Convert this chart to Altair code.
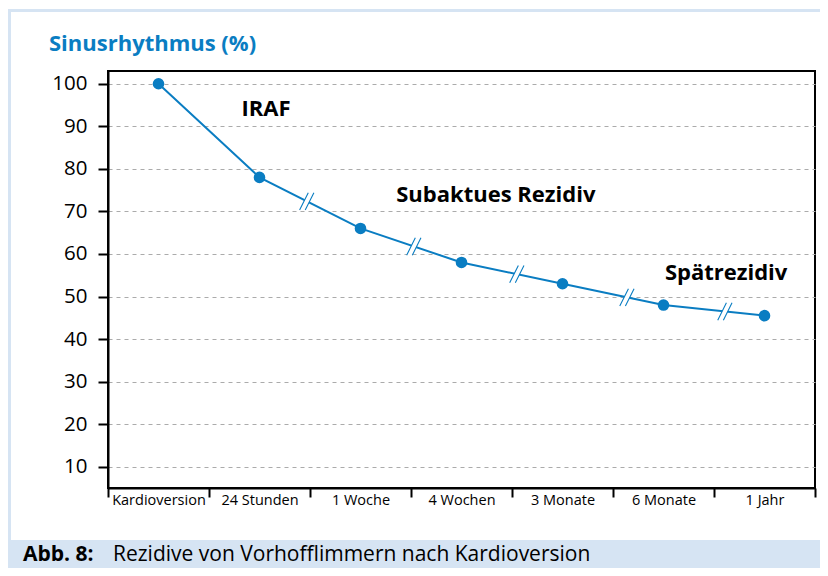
import json
import altair as alt
import pandas as pd

# ---------------- data ----------------
categories = ["Kardioversion", "24 Stunden", "1 Woche", "4 Wochen",
              "3 Monate", "6 Monate", "1 Jahr"]
sinus = [100, 78, 66, 58, 53, 48, 45.5]
y_ticks = [10, 20, 30, 40, 50, 60, 70, 80, 90, 100]

# axis breaks ("//") drawn on the segment after point index, at fraction of the segment
break_after = [1, 2, 3, 4, 5]
break_frac = [0.47, 0.53, 0.55, 0.64, 0.61]

phase_labels = ["IRAF", "Subaktues Rezidiv", "Spätrezidiv"]
phase_x = [1.565, 3.84, 6.12]
phase_y = [94.0, 73.9, 55.5]

title_text = "Sinusrhythmus (%)"
caption_bold = "Abb. 8:"
caption_text = "Rezidive von Vorhofflimmern nach Kardioversion"

# ---------------- styles ----------------
FONT = "Open Sans"
BLUE = "#0a7dc2"
FRAME = "#d6e4f3"
W, H = 707, 417

df = pd.DataFrame({
    "cat": categories,
    "pos": [i + 0.5 for i in range(len(categories))],
    "val": sinus,
})

brk = pd.DataFrame({
    "pos": [i + 0.5 + f for i, f in zip(break_after, break_frac)],
    "val": [sinus[i] + f * (sinus[i + 1] - sinus[i]) for i, f in zip(break_after, break_frac)],
})

phases = pd.DataFrame({"label": phase_labels, "pos": phase_x, "val": phase_y})

xs = alt.Scale(domain=[0, len(categories)], nice=False, zero=False)
ys = alt.Scale(domain=[5, 103], nice=False, zero=False)

y_axis = alt.Axis(values=y_ticks, title=None, grid=True, gridDash=[4, 4],
                  gridColor="#ababab", gridWidth=1, domainColor="black",
                  domainWidth=2, tickColor="black", tickWidth=2, tickSize=10,
                  labelFontSize=20.5, labelColor="black", labelPadding=11,
                  labelFont=FONT)

x_axis_ticks = alt.Axis(values=list(range(len(categories) + 1)), labels=False,
                        title=None, grid=False, orient="bottom",
                        domainColor="black", domainWidth=2, tickColor="black",
                        tickWidth=2, tickSize=9)

label_expr = json.dumps(categories) + "[floor(datum.value)]"
x_axis_labels = alt.Axis(values=[i + 0.5 for i in range(len(categories))],
                         labelExpr=label_expr, ticks=False, domain=False,
                         grid=False, orient="bottom", labelFontSize=14.5,
                         labelPadding=5, labelColor="black", title=None,
                         labelFont=FONT)


def yenc():
    return alt.Y("val:Q", scale=ys, axis=y_axis)


line = alt.Chart(df).mark_line(color=BLUE, strokeWidth=2).encode(
    x=alt.X("pos:Q", scale=xs, axis=x_axis_ticks),
    y=yenc(),
)

points = alt.Chart(df).mark_point(filled=True, color=BLUE, size=135, opacity=1).encode(
    x=alt.X("pos:Q", scale=xs, axis=x_axis_labels),
    y=yenc(),
)

gap_shape = "M -0.85 1 L 0.15 -1 L 0.8 -1 L -0.2 1 Z"
slash_shape = "M -0.85 1 L 0.15 -1 M -0.2 1 L 0.8 -1"

break_gap = alt.Chart(brk).mark_point(shape=gap_shape, filled=True, fill="white",
                                      strokeWidth=0, size=300, opacity=1).encode(
    x=alt.X("pos:Q", scale=xs, axis=None),
    y=yenc(),
)
break_slash = alt.Chart(brk).mark_point(shape=slash_shape, filled=False,
                                        stroke=BLUE, strokeWidth=1.1, size=300,
                                        opacity=1).encode(
    x=alt.X("pos:Q", scale=xs, axis=None),
    y=yenc(),
)

phase_text = alt.Chart(phases).mark_text(font=FONT, fontSize=22, fontWeight="bold",
                                         color="black", align="center",
                                         baseline="middle").encode(
    x=alt.X("pos:Q", scale=xs, axis=None),
    y=yenc(),
    text="label:N",
)

one = alt.Data(values=[{"a": 1}])

frame_top = alt.Chart(one).mark_rect(color=FRAME).encode(
    x=alt.value(-100), x2=alt.value(712), y=alt.value(-62), y2=alt.value(-59))
frame_left = alt.Chart(one).mark_rect(color=FRAME).encode(
    x=alt.value(-100), x2=alt.value(-97), y=alt.value(-62), y2=alt.value(469))
caption_band = alt.Chart(one).mark_rect(color=FRAME).encode(
    x=alt.value(-100), x2=alt.value(712), y=alt.value(469), y2=alt.value(497))

title_mark = alt.Chart(alt.Data(values=[{"t": title_text}])).mark_text(
    font=FONT, fontSize=22, fontWeight="bold", color=BLUE, align="left",
    baseline="middle").encode(x=alt.value(-59), y=alt.value(-27), text="t:N")

cap1 = alt.Chart(alt.Data(values=[{"t": caption_bold}])).mark_text(
    font=FONT, fontSize=21, fontWeight="bold", color="black", align="left",
    baseline="middle").encode(x=alt.value(-85), y=alt.value(484), text="t:N")
cap2 = alt.Chart(alt.Data(values=[{"t": caption_text}])).mark_text(
    font=FONT, fontSize=21, color="black", align="left",
    baseline="middle").encode(x=alt.value(5), y=alt.value(484), text="t:N")

chart = alt.layer(
    line, points, break_gap, break_slash, phase_text,
    frame_top, frame_left, caption_band, title_mark, cap1, cap2,
).resolve_axis(x="independent").properties(
    width=W, height=H,
    autosize=alt.AutoSizeParams(type="none"),
    padding={"left": 100, "top": 63, "right": 5, "bottom": 80},
    background="white",
).configure_view(stroke="black", strokeWidth=2)

chart.save("out.html", embed_options={"renderer": "svg", "actions": False})
